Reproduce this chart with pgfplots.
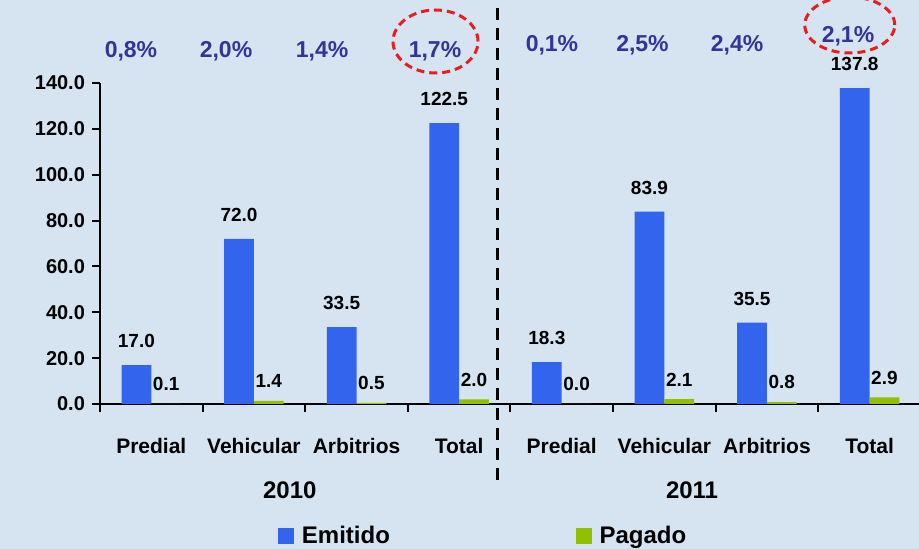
\documentclass[border=0pt]{standalone}
\usepackage{pgfplots}
\pgfplotsset{compat=1.18}
\usepackage{fontspec}
\setmainfont{Liberation Sans}
\definecolor{bg}{RGB}{214,228,241}
\definecolor{emit}{RGB}{51,100,238}
\definecolor{pag}{RGB}{145,192,0}
\definecolor{pct}{RGB}{51,51,153}
\definecolor{ered}{RGB}{232,30,30}
\begin{document}
\begin{tikzpicture}
\fill[bg] (-50pt,-72.5pt) rectangle (409.5pt,202pt);
\path[use as bounding box] (-50pt,-72.5pt) rectangle (409.5pt,202pt);
\begin{axis}[
  at={(0,0)}, anchor=south west,
  scale only axis, width=409.4pt, height=160.5pt,
  xmin=-0.5, xmax=7.48, ymin=0, ymax=140,
  axis x line=bottom, axis y line=left,
  axis line style={-, line width=1.2pt, black},
  clip=false,
  ybar=0pt, bar width=0.29,
  ytick={0,20,...,140},
  tick align=outside,
  major tick length=4pt,
  minor tick length=4pt,
  tick style={line width=1pt, black},
  xtick={0,...,7},
  xticklabels={Predial,Vehicular,Arbitrios,Total,Predial,Vehicular,Arbitrios,Total},
  major x tick style={draw=none},
  minor xtick={-0.5,0.5,...,7.5},
  xticklabel style={font=\bfseries\fontsize{10.5}{12}\selectfont, yshift=-9.5pt},
  yticklabel style={font=\bfseries\fontsize{10}{12}\selectfont, /pgf/number format/.cd, fixed, fixed zerofill, precision=1, assume math mode=true},
  nodes near coords={\pgfmathprintnumber[fixed,fixed zerofill,precision=1,assume math mode=true]{\pgfplotspointmeta}},
  every node near coord/.append style={font=\bfseries\fontsize{9.5}{11}\selectfont, black, anchor=south},
  legend columns=2,
  legend style={draw=none, fill=none, font=\bfseries\fontsize{12}{14}\selectfont,
    at={(axis description cs:0.21,-0.411)}, anchor=west,
    /tikz/every odd column/.append style={column sep=2pt},
    /tikz/every even column/.append style={column sep=91pt}},
  legend image code/.code={\fill[#1, draw=none] (0pt,-3.9pt) rectangle (7.8pt,3.9pt);},
]
\addplot[fill=emit, draw=none, every node near coord/.append style={yshift=5pt}] coordinates {(0,17.0) (1,72.0) (2,33.5) (3,122.5) (4,18.3) (5,83.9) (6,35.5) (7,137.8)};
\addplot[fill=pag, draw=none, every node near coord/.append style={yshift=3pt}] coordinates {(0,0.1) (1,1.4) (2,0.5) (3,2.0) (4,0.0) (5,2.1) (6,0.8) (7,2.9)};
\legend{Emitido,Pagado}
\draw[black, line width=1.5pt, dash pattern=on 6pt off 4pt] (axis cs:3.37,-33) -- (axis cs:3.37,180);
\node[font=\bfseries\fontsize{12}{14}\selectfont] at (axis cs:1.35,-37.5) {2010};
\node[font=\bfseries\fontsize{12}{14}\selectfont] at (axis cs:5.27,-37.5) {2011};
\begin{scope}[every node/.style={font=\bfseries\fontsize{11.5}{13}\selectfont, text=pct}]
\node at (axis cs:-0.198,153.8) {0,8\%};
\node at (axis cs:0.728,153.8) {2,0\%};
\node at (axis cs:1.664,153.8) {1,4\%};
\node at (axis cs:2.765,153.8) {1,7\%};
\node at (axis cs:3.905,156.6) {0,1\%};
\node at (axis cs:4.787,156.6) {2,5\%};
\node at (axis cs:5.709,156.6) {2,4\%};
\node at (axis cs:6.790,160.5) {2,1\%};
\end{scope}
\draw[ered, line width=1.5pt, dash pattern=on 4pt off 2.5pt] (axis cs:2.770,158.1) ellipse [x radius=21.25pt, y radius=15.75pt];
\draw[ered, line width=1.5pt, dash pattern=on 4pt off 2.5pt] (axis cs:6.807,165.3) ellipse [x radius=22.5pt, y radius=14pt];
\end{axis}
\end{tikzpicture}
\end{document}
